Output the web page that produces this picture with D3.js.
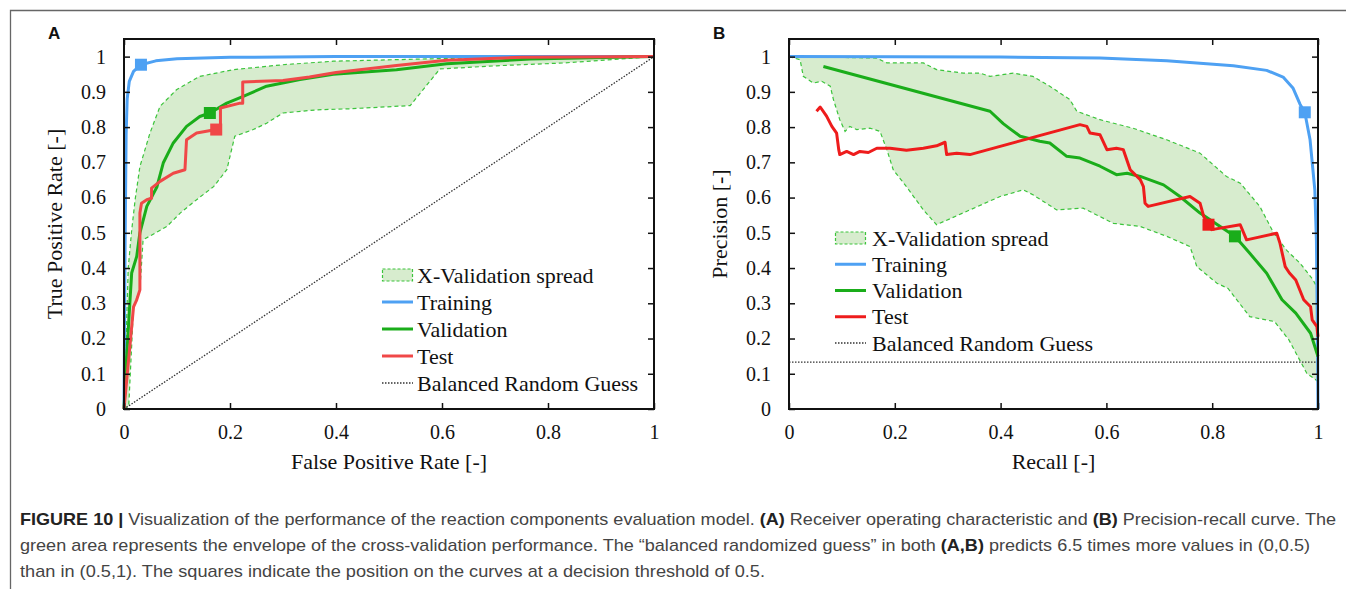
<!DOCTYPE html>
<html lang='en'>
<head>
  <meta charset='UTF-8'>
  <title>Figure 10</title>
  <style>
    * {
      margin: 0;
      padding: 0;
    }
    body {
      background: #fff;
    }
    #chart {
      width: 1346px;
      height: 589px;
    }
  </style>
</head>
<body>
<div id='chart'></div>
<script src='https://cdn.jsdelivr.net/npm/d3@7'></script>
<script>
  // ticks + legend
  const xTicks = [0, 0.2, 0.4, 0.6, 0.8, 1]
  const yTicks = [0, 0.1, 0.2, 0.3, 0.4, 0.5, 0.6, 0.7, 0.8, 0.9, 1]
  const legendLabels = ['X-Validation spread', 'Training', 'Validation', 'Test', 'Balanced Random Guess']

  // A: ROC  [fpr, tpr]
  const rocTraining = [[0, 0], [0.002, 0.45], [0.004, 0.78], [0.006, 0.88], [0.01, 0.93], [0.018, 0.958], [0.032, 0.977],
    [0.06, 0.988], [0.1, 0.994], [0.2, 0.998], [0.4, 1], [1, 1]]
  const rocValidation = [[0, 0], [0.005, 0.148], [0.011, 0.3], [0.0145, 0.386], [0.024, 0.433], [0.03, 0.5], [0.043, 0.575],
    [0.062, 0.63], [0.074, 0.698], [0.093, 0.755], [0.118, 0.802], [0.143, 0.83], [0.162, 0.84], [0.194, 0.868],
    [0.225, 0.887], [0.269, 0.916], [0.332, 0.935], [0.395, 0.95], [0.514, 0.963], [0.609, 0.98], [0.766, 0.993], [1, 1]]
  const rocTest = [[0, 0], [0.018, 0.29], [0.024, 0.31], [0.03, 0.338], [0.03, 0.556], [0.033, 0.584], [0.043, 0.594],
    [0.052, 0.598], [0.052, 0.627], [0.068, 0.646], [0.093, 0.669], [0.115, 0.679], [0.118, 0.764], [0.137, 0.783],
    [0.174, 0.793], [0.182, 0.793], [0.182, 0.854], [0.219, 0.868], [0.224, 0.868], [0.224, 0.928], [0.3, 0.932],
    [0.35, 0.942], [0.4, 0.955], [0.514, 0.975], [0.609, 0.99], [0.75, 0.998], [1, 1]]
  const rocSpreadUpper = [[0, 0], [0.004, 0.2], [0.008, 0.4], [0.014, 0.5], [0.021, 0.594], [0.03, 0.688], [0.049, 0.783],
    [0.068, 0.859], [0.099, 0.906], [0.143, 0.944], [0.206, 0.963], [0.3, 0.977], [0.395, 0.987], [0.64, 0.996], [1, 1]]
  const rocSpreadLower = [[0, 0], [0.009, 0.01], [0.018, 0.29], [0.03, 0.338], [0.036, 0.48], [0.081, 0.518], [0.106, 0.556],
    [0.137, 0.594], [0.169, 0.631], [0.194, 0.679], [0.209, 0.774], [0.244, 0.793], [0.269, 0.811], [0.3, 0.84],
    [0.364, 0.849], [0.426, 0.852], [0.54, 0.861], [0.596, 0.965], [0.703, 0.974], [0.829, 0.982], [1, 1]]
  const rocRandom = [[0, 0], [1, 1]]
  const rocThreshold = [[0.032, 0.977], [0.162, 0.84], [0.174, 0.793]]

  // B: precision-recall  [recall, precision]
  const prTraining = [[0, 1], [0.4, 0.999], [0.588, 0.996], [0.714, 0.988], [0.84, 0.974], [0.903, 0.961], [0.934, 0.942],
    [0.953, 0.91], [0.966, 0.865], [0.975, 0.842], [0.985, 0.764], [0.994, 0.622], [0.997, 0.48], [0.999, 0.2], [1, 0]]
  const prValidation = [[0.065, 0.972], [0.38, 0.845], [0.405, 0.81], [0.418, 0.795], [0.437, 0.774], [0.474, 0.76],
    [0.493, 0.755], [0.525, 0.717], [0.55, 0.712], [0.588, 0.689], [0.619, 0.665], [0.639, 0.669], [0.664, 0.66],
    [0.708, 0.636], [0.739, 0.603], [0.777, 0.556], [0.815, 0.518], [0.843, 0.49], [0.871, 0.442], [0.903, 0.385],
    [0.932, 0.31], [0.958, 0.272], [0.986, 0.215], [1, 0.149]]
  const prTest = [[0.052, 0.845], [0.059, 0.857], [0.071, 0.831], [0.081, 0.802], [0.09, 0.783], [0.094, 0.736],
    [0.096, 0.722], [0.109, 0.731], [0.122, 0.722], [0.134, 0.731], [0.15, 0.728], [0.166, 0.74], [0.191, 0.74],
    [0.222, 0.734], [0.254, 0.74], [0.279, 0.747], [0.295, 0.757], [0.298, 0.722], [0.317, 0.726], [0.342, 0.722],
    [0.55, 0.807], [0.563, 0.802], [0.569, 0.783], [0.588, 0.778], [0.601, 0.736], [0.619, 0.74], [0.632, 0.736],
    [0.645, 0.679], [0.664, 0.651], [0.67, 0.631], [0.673, 0.584], [0.679, 0.575], [0.758, 0.603], [0.777, 0.584],
    [0.784, 0.546], [0.793, 0.523], [0.799, 0.509], [0.853, 0.523], [0.865, 0.48], [0.922, 0.499], [0.928, 0.471],
    [0.938, 0.404], [0.946, 0.386], [0.958, 0.366], [0.973, 0.31], [0.986, 0.29], [0.989, 0.253], [0.998, 0.234], [1, 0.205]]
  const prSpreadUpper = [[0, 1], [0.166, 0.996], [0.185, 0.982], [0.254, 0.982], [0.279, 0.963], [0.33, 0.953],
    [0.361, 0.953], [0.38, 0.944], [0.424, 0.953], [0.461, 0.944], [0.493, 0.916], [0.531, 0.878], [0.544, 0.845],
    [0.588, 0.821], [0.65, 0.797], [0.714, 0.764], [0.777, 0.726], [0.827, 0.66], [0.853, 0.641], [0.89, 0.575],
    [0.916, 0.5], [0.941, 0.45], [0.966, 0.414], [0.991, 0.366], [1, 0.338]]
  const prSpreadLower = [[0, 1], [0.021, 0.991], [0.027, 0.944], [0.046, 0.925], [0.062, 0.93], [0.078, 0.916],
    [0.084, 0.878], [0.096, 0.821], [0.106, 0.788], [0.115, 0.802], [0.128, 0.793], [0.153, 0.797], [0.172, 0.788],
    [0.185, 0.736], [0.197, 0.679], [0.222, 0.631], [0.254, 0.565], [0.279, 0.523], [0.399, 0.603], [0.443, 0.622],
    [0.461, 0.608], [0.506, 0.565], [0.556, 0.57], [0.613, 0.527], [0.664, 0.518], [0.714, 0.49], [0.758, 0.461],
    [0.771, 0.404], [0.809, 0.357], [0.83, 0.342], [0.871, 0.262], [0.918, 0.248], [0.945, 0.196], [0.979, 0.101], [1, 0.078]]
  const prRandom = [[0, 0.1333], [1, 0.1333]]
  const prThreshold = [[0.975, 0.842], [0.843, 0.49], [0.793, 0.523]]

  const captionLines = [
    [['FIGURE 10 | ', true], ['Visualization of the performance of the reaction components evaluation model. ', false], ['(A)', true],
      [' Receiver operating characteristic and ', false], ['(B)', true], [' Precision-recall curve. The', false]],
    [['green area represents the envelope of the cross-validation performance. The \u201cbalanced randomized guess\u201d in both ', false],
      ['(A,B)', true], [' predicts 6.5 times more values in (0,0.5)', false]],
    [['than in (0.5,1). The squares indicate the position on the curves at a decision threshold of 0.5.', false]]
  ]

  let svgW = 1346
  let svgH = 589
  let plotTop = 39
  let plotH = 370
  let serif = "'Liberation Serif', 'Times New Roman', serif"
  let blue = '#4ea1f3'
  let green = '#1aad1a'
  let spreadFill = '#d7ecce'
  let spreadStroke = '#3cc43c'

  let svg = d3.select('#chart')
  .append('svg')
  .attr('xmlns', 'http://www.w3.org/2000/svg')
  .attr('width', svgW)
  .attr('height', svgH)

  svg.append('rect')
  .attr('width', svgW)
  .attr('height', svgH)
  .style('fill', '#fff')

  // figure frame (top + left only)
  svg.append('path')
  .attr('d', 'M10.5,' + svgH + 'V10.5H' + svgW)
  .attr('fill', 'none')
  .attr('stroke', '#666')
  .attr('stroke-width', 1.3)

  let fmt = d => (d === 0 || d === 1) ? String(d) : d.toFixed(1)

  function panel (p) {
    let g = svg.append('g').attr('transform', 'translate(' + p.left + ',' + plotTop + ')')
    let x = d3.scaleLinear().domain([0, 1]).range([0, p.w])
    let y = d3.scaleLinear().domain([0, 1.05]).range([plotH, 0])
    let line = d3.line().x(d => x(d[0])).y(d => y(d[1]))

    // spread envelope
    g.append('path')
    .attr('d', line(p.upper.concat(p.lower.slice().reverse())) + 'Z')
    .attr('fill', spreadFill)
    .attr('stroke', 'none')
    ;[p.upper, p.lower].forEach(s => {
      g.append('path')
      .attr('d', line(s))
      .attr('fill', 'none')
      .attr('stroke', spreadStroke)
      .attr('stroke-width', 1.2)
      .attr('stroke-dasharray', '4,3')
    })

    g.append('path')
    .attr('d', line(p.random))
    .attr('fill', 'none')
    .attr('stroke', '#333')
    .attr('stroke-width', 1.3)
    .attr('stroke-dasharray', '1.5,1.5')

    let series = [[p.training, blue], [p.validation, green], [p.test, p.red]]
    series.forEach(([s, c]) => {
      g.append('path')
      .attr('d', line(s))
      .attr('fill', 'none')
      .attr('stroke', c)
      .attr('stroke-width', 3)
      .attr('stroke-linejoin', 'round')
    })

    // threshold squares
    g.selectAll('.sq')
    .data(p.threshold)
    .enter()
    .append('rect')
    .attr('x', d => x(d[0]) - 6)
    .attr('y', d => y(d[1]) - 6)
    .attr('width', 12)
    .attr('height', 12)
    .attr('fill', (d, i) => series[i][1])

    // axes, ticks inward
    let axes = [
      g.append('g').attr('transform', 'translate(0,' + plotH + ')')
      .call(d3.axisBottom(x).tickValues(xTicks).tickSize(-6).tickPadding(16).tickFormat(fmt)),
      g.append('g')
      .call(d3.axisLeft(y).tickValues(yTicks).tickSize(-6).tickPadding(18).tickFormat(fmt)),
      g.append('g')
      .call(d3.axisTop(x).tickValues(xTicks).tickSize(-6).tickFormat('')),
      g.append('g').attr('transform', 'translate(' + p.w + ',0)')
      .call(d3.axisRight(y).tickValues(yTicks).tickSize(-6).tickFormat(''))
    ]
    axes.forEach(a => {
      a.select('.domain').remove()
      a.attr('font-family', serif).attr('font-size', 20)
      a.selectAll('line').attr('stroke', '#111').attr('stroke-width', 1.5)
      a.selectAll('text').attr('fill', '#111')
    })
    g.append('rect')
    .attr('width', p.w)
    .attr('height', plotH)
    .attr('fill', 'none')
    .attr('stroke', '#111')
    .attr('stroke-width', 2)

    g.append('text')
    .attr('x', p.w / 2)
    .attr('y', plotH + 60)
    .attr('text-anchor', 'middle')
    .attr('font-family', serif)
    .attr('font-size', 22)
    .attr('fill', '#111')
    .text(p.xTitle)
    g.append('text')
    .attr('transform', 'translate(-62,' + (plotH / 2) + ') rotate(-90)')
    .attr('text-anchor', 'middle')
    .attr('font-family', serif)
    .attr('font-size', 22)
    .attr('fill', '#111')
    .text(p.yTitle)

    svg.append('text')
    .attr('x', p.left - 76)
    .attr('y', 39)
    .attr('font-family', "'Liberation Sans', Arial, sans-serif")
    .attr('font-weight', 'bold')
    .attr('font-size', 17)
    .attr('fill', '#111')
    .text(p.label)

    // legend
    let lg = g.append('g').attr('transform', 'translate(' + p.legendX + ',' + p.legendY + ')')
    let row = lg.selectAll('g')
    .data(legendLabels)
    .enter()
    .append('g')
    .attr('transform', (d, i) => 'translate(0,' + (i * p.legendStep) + ')')
    row.filter((d, i) => i === 0)
    .append('rect')
    .attr('x', 0.5)
    .attr('y', -6)
    .attr('width', 30)
    .attr('height', 12)
    .attr('fill', spreadFill)
    .attr('stroke', spreadStroke)
    .attr('stroke-width', 1.2)
    .attr('stroke-dasharray', '3,2')
    row.filter((d, i) => i > 0)
    .append('line')
    .attr('x1', 0)
    .attr('x2', 31)
    .attr('stroke', (d, i) => [blue, green, p.red, '#333'][i])
    .attr('stroke-width', (d, i) => i === 3 ? 1.3 : 3)
    .attr('stroke-dasharray', (d, i) => i === 3 ? '1.5,1.5' : null)
    row.append('text')
    .attr('x', p.legendText)
    .attr('dy', '0.35em')
    .attr('font-family', serif)
    .attr('font-size', 22)
    .attr('fill', '#111')
    .text(d => d)
  }

  panel({
    label: 'A', left: 124, w: 530, red: '#f04848',
    training: rocTraining, validation: rocValidation, test: rocTest,
    upper: rocSpreadUpper, lower: rocSpreadLower, random: rocRandom, threshold: rocThreshold,
    xTitle: 'False Positive Rate [-]', yTitle: 'True Positive Rate [-]',
    legendX: 258, legendY: 236, legendStep: 27, legendText: 35
  })
  panel({
    label: 'B', left: 789, w: 529, red: '#ee1c1c',
    training: prTraining, validation: prValidation, test: prTest,
    upper: prSpreadUpper, lower: prSpreadLower, random: prRandom, threshold: prThreshold,
    xTitle: 'Recall [-]', yTitle: 'Precision [-]',
    legendX: 46, legendY: 199, legendStep: 26.25, legendText: 37
  })

  // caption
  let lineEnds = [1336, 1310, 765]
  captionLines.forEach((parts, i) => {
    let t = svg.append('text')
    .attr('x', 20)
    .attr('y', 525 + i * 26)
    .attr('font-family', "'Liberation Sans', Arial, sans-serif")
    .attr('font-size', 17)
    .attr('textLength', lineEnds[i] - 20)
    .attr('lengthAdjust', 'spacingAndGlyphs')
    parts.forEach(([s, b]) => {
      t.append('tspan')
      .attr('font-weight', b ? 'bold' : 'normal')
      .attr('fill', b ? '#222' : '#444')
      .text(s)
    })
  })
</script>
</body>
</html>
